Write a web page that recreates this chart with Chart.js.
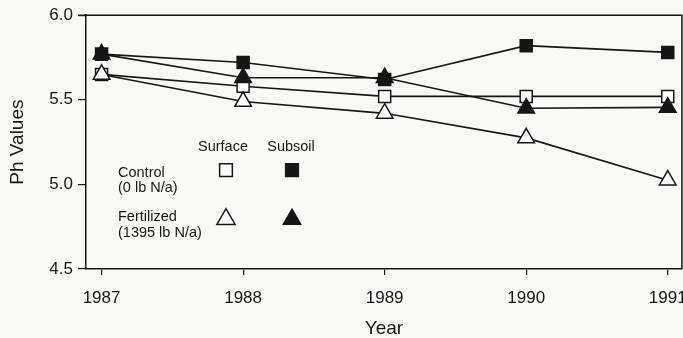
<!DOCTYPE html>
<html>
<head>
<meta charset="utf-8">
<script src="https://cdn.jsdelivr.net/npm/chart.js@4/dist/chart.umd.min.js"></script>
<style>
  html, body { margin: 0; padding: 0; background: #f8f8f7; overflow: hidden; }
  #wrap { width: 683px; height: 338px; overflow: hidden; }
</style>
</head>
<body>
<div id="wrap"><canvas id="phChart" width="700" height="338"></canvas></div>
<script>
const years = [1987, 1988, 1989, 1990, 1991];
const yTicks = [4.5, 5.0, 5.5, 6.0];

const controlSurface    = [5.65, 5.58, 5.52, 5.52, 5.52];
const controlSubsoil    = [5.77, 5.72, 5.62, 5.82, 5.78];
const fertilizedSurface = [5.65, 5.49, 5.42, 5.275, 5.025];
const fertilizedSubsoil = [5.77, 5.63, 5.63, 5.45, 5.455];

const ink = '#161616';
const font = 'Liberation Sans, Arial, Helvetica, sans-serif';

function pts(vals) {
    return vals.map((v, i) => ({ x: years[i], y: v }));
}

function series(label, vals, style, filled, radius, order) {
    return {
        label: label,
        data: pts(vals),
        borderColor: ink,
        borderWidth: 1.6,
        pointStyle: style,
        pointRadius: radius,
        pointHoverRadius: radius,
        pointBorderColor: ink,
        pointBorderWidth: 1.5,
        pointBackgroundColor: filled ? ink : '#ffffff',
        fill: false,
        tension: 0,
        order: order
    };
}

// box on top and right, plus the little legend
const framePlugin = {
    id: 'frame',
    afterDatasetsDraw(chart) {
        const { ctx, chartArea: a } = chart;
        ctx.save();
        ctx.strokeStyle = ink;
        ctx.lineWidth = 1.5;
        ctx.beginPath();
        ctx.moveTo(a.left - 8, a.top);
        ctx.lineTo(a.right, a.top);
        ctx.lineTo(a.right, a.bottom);
        ctx.stroke();

        // legend, placed relative to the plot area
        const lx = a.left + 32;
        const c1 = a.left + 140;
        const c2 = a.left + 206;
        ctx.fillStyle = ink;
        ctx.font = '14.5px ' + font;
        ctx.textBaseline = 'middle';
        ctx.textAlign = 'center';
        ctx.fillText('Surface', c1 - 3, a.top + 132);
        ctx.fillText('Subsoil', c2 - 1, a.top + 132);
        ctx.textAlign = 'left';
        ctx.fillText('Control', lx, a.top + 158);
        ctx.fillText('(0 lb N/a)', lx, a.top + 173);
        ctx.fillText('Fertilized', lx, a.top + 202);
        ctx.fillText('(1395 lb N/a)', lx, a.top + 218);

        const draw = (style, x, y, r, filled) => {
            ctx.fillStyle = filled ? ink : '#ffffff';
            ctx.strokeStyle = ink;
            ctx.lineWidth = 1.5;
            Chart.helpers.drawPoint(ctx, { pointStyle: style, radius: r, borderWidth: 1.5 }, x, y);
        };
        draw('rect', c1, a.top + 155, 9, false);
        draw('rect', c2, a.top + 155, 9, true);
        draw('triangle', c1, a.top + 204, 10.5, false);
        draw('triangle', c2, a.top + 204, 10, true);
        ctx.restore();
    }
};

new Chart(document.getElementById('phChart').getContext('2d'), {
    type: 'line',
    data: {
        datasets: [
            series('Fertilized Surface', fertilizedSurface, 'triangle', false, 9.6, 1),
            series('Fertilized Subsoil', fertilizedSubsoil, 'triangle', true, 9.6, 2),
            series('Control Surface', controlSurface, 'rect', false, 8.5, 3),
            series('Control Subsoil', controlSubsoil, 'rect', true, 8.5, 4)
        ]
    },
    options: {
        responsive: false,
        maintainAspectRatio: false,
        animation: false,
        events: [],
        layout: { padding: { top: 15, right: 14, left: 0, bottom: 0 } },
        plugins: {
            legend: { display: false },
            tooltip: { enabled: false }
        },
        scales: {
            x: {
                type: 'linear',
                min: 1986.89,
                max: 1991.1,
                afterBuildTicks: (s) => { s.ticks = years.map(v => ({ value: v })); },
                afterFit: (s) => { s.height = 69; },
                border: { display: true, color: ink, width: 1.5 },
                grid: { drawOnChartArea: false, tickLength: 6, color: ink, lineWidth: 1.2 },
                ticks: {
                    color: ink,
                    padding: 13,
                    maxRotation: 0,
                    font: { family: font, size: 17 },
                    callback: (v) => String(v)
                },
                title: {
                    display: true,
                    text: 'Year',
                    color: ink,
                    padding: { top: 0, bottom: 0 },
                    font: { family: font, size: 19, lineHeight: 1.0 }
                }
            },
            y: {
                min: 4.5,
                max: 6.0,
                afterBuildTicks: (s) => { s.ticks = yTicks.map(v => ({ value: v })); },
                afterFit: (s) => { s.width = 86; },
                border: { display: true, color: ink, width: 1.5 },
                grid: { drawOnChartArea: false, tickLength: 8, color: ink, lineWidth: 1.2 },
                ticks: {
                    color: ink,
                    padding: 5,
                    font: { family: font, size: 17 },
                    callback: (v) => v.toFixed(1)
                },
                title: {
                    display: true,
                    text: 'Ph Values',
                    color: ink,
                    padding: { top: 6, bottom: 0 },
                    font: { family: font, size: 19 }
                }
            }
        }
    },
    plugins: [framePlugin]
});
</script>
</body>
</html>
